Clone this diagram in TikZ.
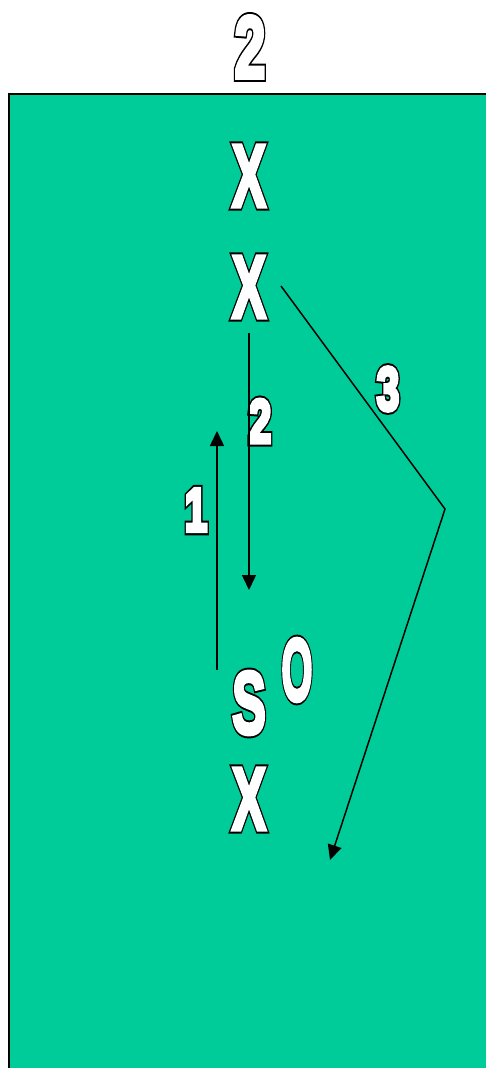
\documentclass[tikz,border=0pt]{standalone}
\usepackage{fontspec}
\usetikzlibrary{arrows.meta}
\newfontfamily\labfont{Liberation Sans}
\definecolor{field}{RGB}{0,204,153}
\newcommand{\outl}[1]{\rlap{\special{pdf:literal direct 2 Tr 8.5 w 0 G 0 g}#1}\special{pdf:literal direct 2 Tr 4.5 w 1 G 1 g}#1\special{pdf:literal direct 0 Tr}}
\begin{document}
\begin{tikzpicture}[x=1pt,y=-1pt,
  big/.style={inner sep=0pt,outer sep=0pt,text=white,font=\labfont\bfseries\fontsize{88}{88}\selectfont,xscale=0.6},
  small/.style={big,font=\labfont\bfseries\fontsize{61}{61}\selectfont},
  conn/.style={line width=1.5pt,draw=black},
  tip/.style={-{Triangle[length=15pt,width=14pt]}}]
\useasboundingbox (0,0) rectangle (485,1068);
\fill[white] (0,0) rectangle (485,1068);
\draw[fill=field,line width=2pt] (9,94) rectangle (495,1080);
% labels
\node[big,xscale=1.05] (top) at (250,47) {\outl{2}};
\node[big,xscale=0.95] (x1) at (249,176) {\outl{X}};
\node[big,xscale=0.95] (x2) at (249,287) {\outl{X}};
\node[big,xscale=0.95] (s) at (249,703) {\outl{S}};
\node[big,xscale=0.75] (o) at (297,670) {\outl{O}};
\node[big,xscale=0.95] (x3) at (249,799) {\outl{X}};
\node[small,xscale=1.1] (l2) at (260,421) {\outl{2}};
\node[small,xscale=1.1] (l1) at (196,510) {\outl{1}};
\node[small,xscale=1.1] (l3) at (388,389) {\outl{3}};
% connectors
\coordinate (a2s) at (249,333);
\coordinate (a2e) at (249,590);
\coordinate (a1s) at (217,670);
\coordinate (a1e) at (217,431);
\coordinate (p3s) at (281,286);
\coordinate (p3m) at (445,509);
\coordinate (p3e) at (330,860);
\draw[conn,tip] (a2s) -- (a2e);
\draw[conn,tip] (a1s) -- (a1e);
\draw[conn,tip] (p3s) -- (p3m) -- (p3e);
\end{tikzpicture}
\end{document}
